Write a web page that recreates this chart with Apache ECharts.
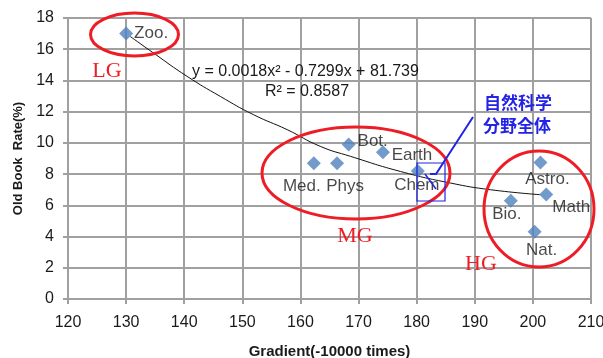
<!DOCTYPE html>
<html><head><meta charset="utf-8">
<script src="https://cdn.jsdelivr.net/npm/echarts@6/dist/echarts.min.js"></script>
<style>html,body{margin:0;padding:0;background:#fff}#c{width:603px;height:358px}</style>
</head><body><div id="c"></div>
<script>
// Data
const fields = ["Zoo.", "Med.", "Phys", "Bot.", "Earth", "Chem", "Astro.", "Math", "Bio.", "Nat."];
const gradient = [130.0, 162.3, 166.3, 168.3, 174.2, 180.2, 201.3, 202.3, 196.2, 200.3];
const oldBookRate = [17.0, 8.7, 8.7, 9.9, 9.4, 8.2, 8.75, 6.7, 6.3, 4.3];
// Trendline
const trendX = [130.7, 134.7, 140.5, 146.2, 151.9, 157.7, 163.4, 168.6, 177.2, 185.8, 192.7, 201.3];
const trendY = [16.82, 15.76, 14.26, 12.98, 11.81, 10.85, 9.78, 9.14, 8.17, 7.43, 7.0, 6.68];
const xTicks = [120, 130, 140, 150, 160, 170, 180, 190, 200, 210];
const yTicks = [0, 2, 4, 6, 8, 10, 12, 14, 16, 18];

// label placement (text centre relative to marker, px)
const labelOffsets = {
  "Zoo.": [25, 0], "Med.": [-12, 23], "Phys": [8, 23], "Bot.": [24, -3],
  "Earth": [29, 3], "Chem": [-1, 14], "Astro.": [7, 17], "Math": [25, 13],
  "Bio.": [-4, 14], "Nat.": [7, 18]
};

const FONT = 'Liberation Sans';
const TXT = '#1a1a1a';
const scatterData = fields.map((n, i) => ({
  name: n, value: [gradient[i], oldBookRate[i]],
  label: { show: true, formatter: n, position: 'inside', offset: labelOffsets[n],
           align: 'center', verticalAlign: 'middle' }
}));
const trendData = trendX.map((x, i) => [x, trendY[i]]);

const chart = echarts.init(document.getElementById('c'));
const red = '#ee1c25', blue = '#2323e6', gridCol = '#a0a0a0';
chart.setOption({
  animation: false,
  backgroundColor: '#fff',
  grid: { left: 68, right: 12, top: 18, bottom: 59, containLabel: false, outerBoundsMode: 'none' },
  xAxis: {
    type: 'value', min: xTicks[0], max: xTicks[xTicks.length - 1], interval: 10,
    name: 'Gradient(-10000 times)', nameLocation: 'middle', nameGap: 45,
    nameTextStyle: { fontFamily: FONT, fontWeight: 'bold', fontSize: 15, color: TXT },
    axisLine: { show: true, lineStyle: { color: gridCol, width: 2 } },
    axisTick: { show: true, length: 5, lineStyle: { color: gridCol, width: 2 } },
    axisLabel: { fontFamily: FONT, fontSize: 16, color: TXT, margin: 16 },
    splitLine: { show: true, lineStyle: { color: gridCol, width: 2 } }
  },
  yAxis: {
    type: 'value', min: yTicks[0], max: yTicks[yTicks.length - 1], interval: 2,
    name: 'Old Book  Rate(%)', nameLocation: 'middle', nameGap: 42,
    nameTextStyle: { fontFamily: FONT, fontWeight: 'bold', fontSize: 13, color: TXT },
    axisLine: { show: true, lineStyle: { color: gridCol, width: 2 } },
    axisTick: { show: true, length: 5, lineStyle: { color: gridCol, width: 2 } },
    axisLabel: { fontFamily: FONT, fontSize: 16, color: TXT, margin: 14 },
    splitLine: { show: true, lineStyle: { color: gridCol, width: 2 } }
  },
  series: [
    {
      type: 'line', data: trendData, smooth: true, showSymbol: false, z: 3,
      lineStyle: { color: '#111', width: 1 }, silent: true
    },
    {
      type: 'scatter', data: scatterData, symbol: 'diamond', symbolSize: 14, z: 4,
      itemStyle: { color: '#4f81bd' },
      label: { fontFamily: FONT, fontSize: 17, color: TXT, textBorderWidth: 0, textBorderColor: 'transparent' }
    }
  ],
  graphic: [
    { type: 'ellipse', shape: { cx: 134.5, cy: 34.5, rx: 44, ry: 21.5 }, style: { fill: 'none', stroke: red, lineWidth: 3 }, z: 10 },
    { type: 'ellipse', shape: { cx: 356, cy: 173, rx: 94, ry: 46 }, style: { fill: 'none', stroke: red, lineWidth: 3 }, z: 10 },
    { type: 'ellipse', shape: { cx: 539, cy: 209, rx: 55, ry: 58 }, style: { fill: 'none', stroke: red, lineWidth: 3 }, z: 10 },
    { type: 'text', x: 107, y: 71, style: { text: 'LG', fill: red, font: '22px "Liberation Serif"', textAlign: 'center', textVerticalAlign: 'middle' }, z: 10 },
    { type: 'text', x: 355, y: 236, style: { text: 'MG', fill: red, font: '22px "Liberation Serif"', textAlign: 'center', textVerticalAlign: 'middle' }, z: 10 },
    { type: 'text', x: 481, y: 264, style: { text: 'HG', fill: red, font: '22px "Liberation Serif"', textAlign: 'center', textVerticalAlign: 'middle' }, z: 10 },
    { type: 'text', x: 518, y: 103, style: { text: '自然科学', fill: blue, font: 'bold 17px "Noto Sans CJK JP"', textAlign: 'center', textVerticalAlign: 'middle' }, z: 10 },
    { type: 'text', x: 517, y: 126, style: { text: '分野全体', fill: blue, font: 'bold 17px "Noto Sans CJK JP"', textAlign: 'center', textVerticalAlign: 'middle' }, z: 10 },
    { type: 'rect', shape: { x: 417, y: 163, width: 28, height: 38 }, style: { fill: 'none', stroke: blue, lineWidth: 1.2 }, z: 10 },
    { type: 'polyline', shape: { points: [[473, 117], [436, 174], [430, 174]] }, style: { fill: 'none', stroke: blue, lineWidth: 2 }, z: 10 },
    { type: 'line', shape: { x1: 425, y1: 174, x2: 436, y2: 189 }, style: { stroke: blue, lineWidth: 1.5 }, z: 10 },
    { type: 'text', x: 192, y: 72, style: { text: 'y = 0.0018x² - 0.7299x + 81.739', fill: TXT, font: '16px "Liberation Sans"', textVerticalAlign: 'middle' }, z: 10 },
    { type: 'text', x: 265, y: 92, style: { text: 'R² = 0.8587', fill: TXT, font: '16px "Liberation Sans"', textVerticalAlign: 'middle' }, z: 10 }
  ]
});
</script></body></html>
